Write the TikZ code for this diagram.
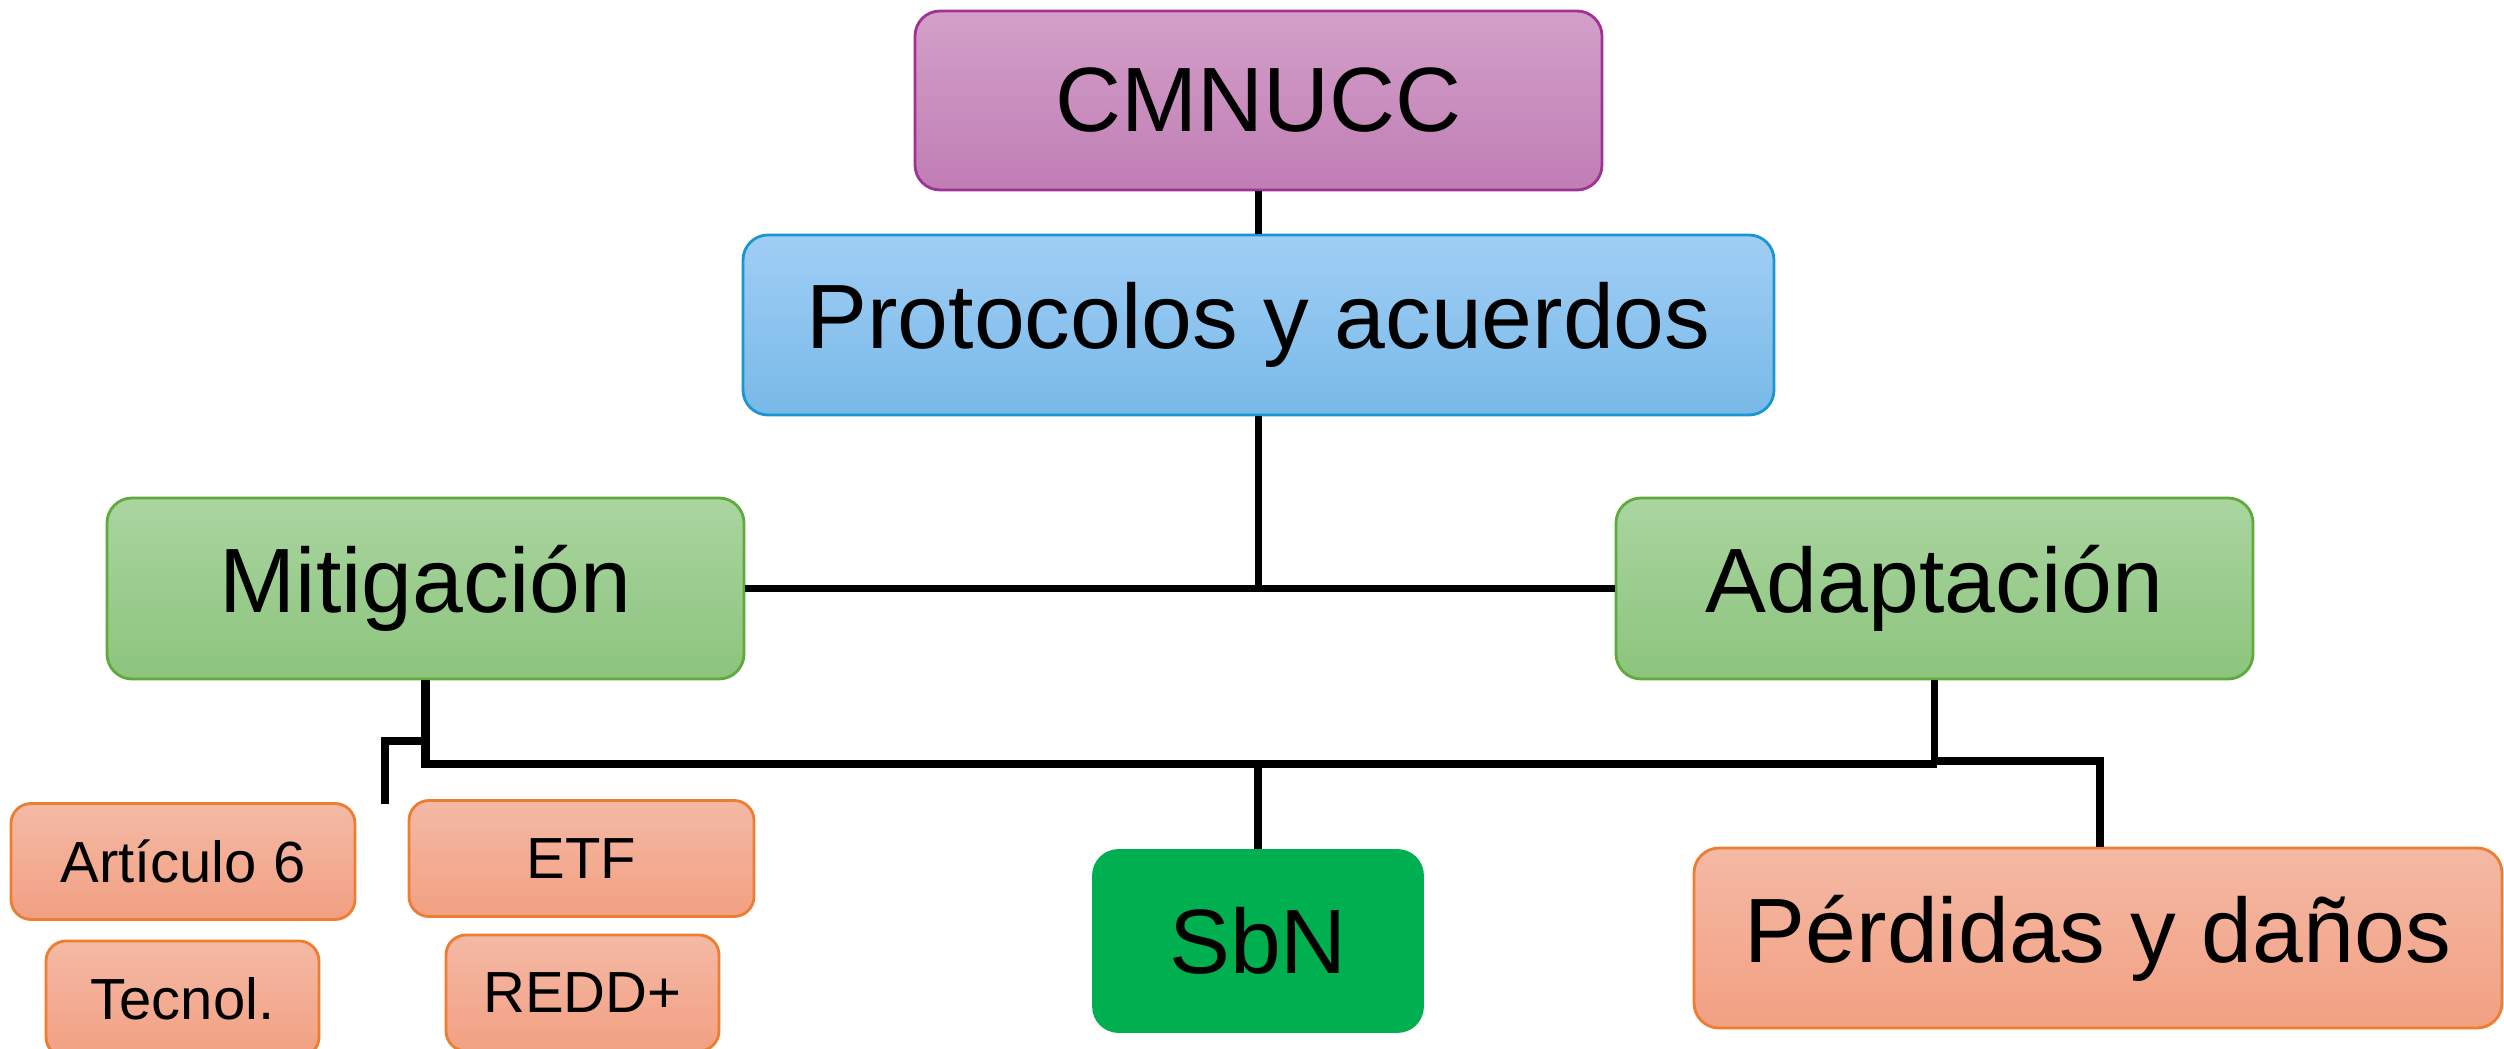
\documentclass[tikz,border=0pt]{standalone}
\usepackage{fontspec}
\setmainfont{Liberation Sans}
\definecolor{purpTop}{RGB}{211,160,201}
\definecolor{purpBot}{RGB}{192,125,180}
\definecolor{purpLine}{RGB}{160,50,150}
\definecolor{blueTop}{RGB}{160,206,245}
\definecolor{blueBot}{RGB}{120,185,232}
\definecolor{blueLine}{RGB}{25,150,210}
\definecolor{grnTop}{RGB}{170,213,160}
\definecolor{grnBot}{RGB}{140,196,125}
\definecolor{grnLine}{RGB}{95,170,60}
\definecolor{orTop}{RGB}{244,185,165}
\definecolor{orBot}{RGB}{242,160,130}
\definecolor{orLine}{RGB}{237,125,49}
\definecolor{sbnGreen}{RGB}{0,176,80}
\tikzset{
  bigbox/.style={rounded corners=0.25cm, line width=0.8pt, inner sep=0pt,
    font=\fontsize{26}{30}\selectfont, text=black},
  smallbox/.style={rounded corners=0.2cm, line width=0.8pt, inner sep=0pt,
    top color=orTop, bottom color=orBot, draw=orLine,
    font=\fontsize{16.5}{20}\selectfont, text=black,
    minimum height=1.16cm},
  conn/.style={line width=2.1pt, black},
  busline/.style={line width=2.3pt, black}
}
\begin{document}
\begin{tikzpicture}[x=1cm,y=1cm]
\useasboundingbox (0,0) rectangle (25.04,-10.49);
\begin{scope}
\clip (0,0) rectangle (25.04,-10.49);
% main nodes
\node[bigbox, top color=purpTop, bottom color=purpBot, draw=purpLine,
  minimum width=6.87cm, minimum height=1.79cm] (cmnucc) at (12.585,-1.005) {CMNUCC};
\node[bigbox, top color=blueTop, bottom color=blueBot, draw=blueLine,
  minimum width=10.31cm, minimum height=1.80cm] (proto) at (12.585,-3.25) {Protocolos y acuerdos};
\node[bigbox, top color=grnTop, bottom color=grnBot, draw=grnLine,
  minimum width=6.37cm, minimum height=1.81cm] (miti) at (4.255,-5.885) {Mitigación};
\node[bigbox, top color=grnTop, bottom color=grnBot, draw=grnLine,
  minimum width=6.37cm, minimum height=1.81cm] (adap) at (19.345,-5.885) {Adaptación};
\node[bigbox, fill=sbnGreen, draw=sbnGreen,
  minimum width=3.29cm, minimum height=1.81cm] (sbn) at (12.58,-9.41) {SbN};
\node[bigbox, top color=orTop, bottom color=orBot, draw=orLine,
  minimum width=8.08cm, minimum height=1.80cm] (perd) at (20.98,-9.38) {Pérdidas y daños};
% small nodes
\node[smallbox, minimum width=3.44cm] (art) at (1.83,-8.615) {Artículo 6};
\node[smallbox, minimum width=2.73cm] (tec) at (1.825,-9.99) {Tecnol.};
\node[smallbox, minimum width=3.45cm] (etf) at (5.815,-8.585) {ETF};
\node[smallbox, minimum width=2.73cm] (redd) at (5.825,-9.93) {REDD+};
\end{scope}
% junction coordinates
\coordinate (jtop) at (12.585,-5.885);
\coordinate (busL) at (4.255,-7.64);
\coordinate (busR) at (19.37,-7.64);
\coordinate (busS) at (12.58,-7.64);
\coordinate (brA) at (4.255,-7.41);
\coordinate (brB) at (3.85,-7.41);
\coordinate (brEnd) at (3.85,-8.04);
\coordinate (pdA) at (19.345,-7.61);
\coordinate (pdB) at (21.0,-7.61);
% connectors
\draw[conn] (cmnucc.south) -- (proto.north);
\draw[conn] (proto.south) -- (jtop);
\draw[conn] (miti.east) -- (adap.west);
\draw[busline] (miti.south) -- (busL) -- (busR);
\draw[conn] (adap.south) -- (pdA);
\draw[busline] (pdA) -- (pdB) -- (pdB |- perd.north);
\draw[conn] (busS) -- (sbn.north);
\draw[busline] (brA) -- (brB) -- (brEnd);
\end{tikzpicture}
\end{document}
